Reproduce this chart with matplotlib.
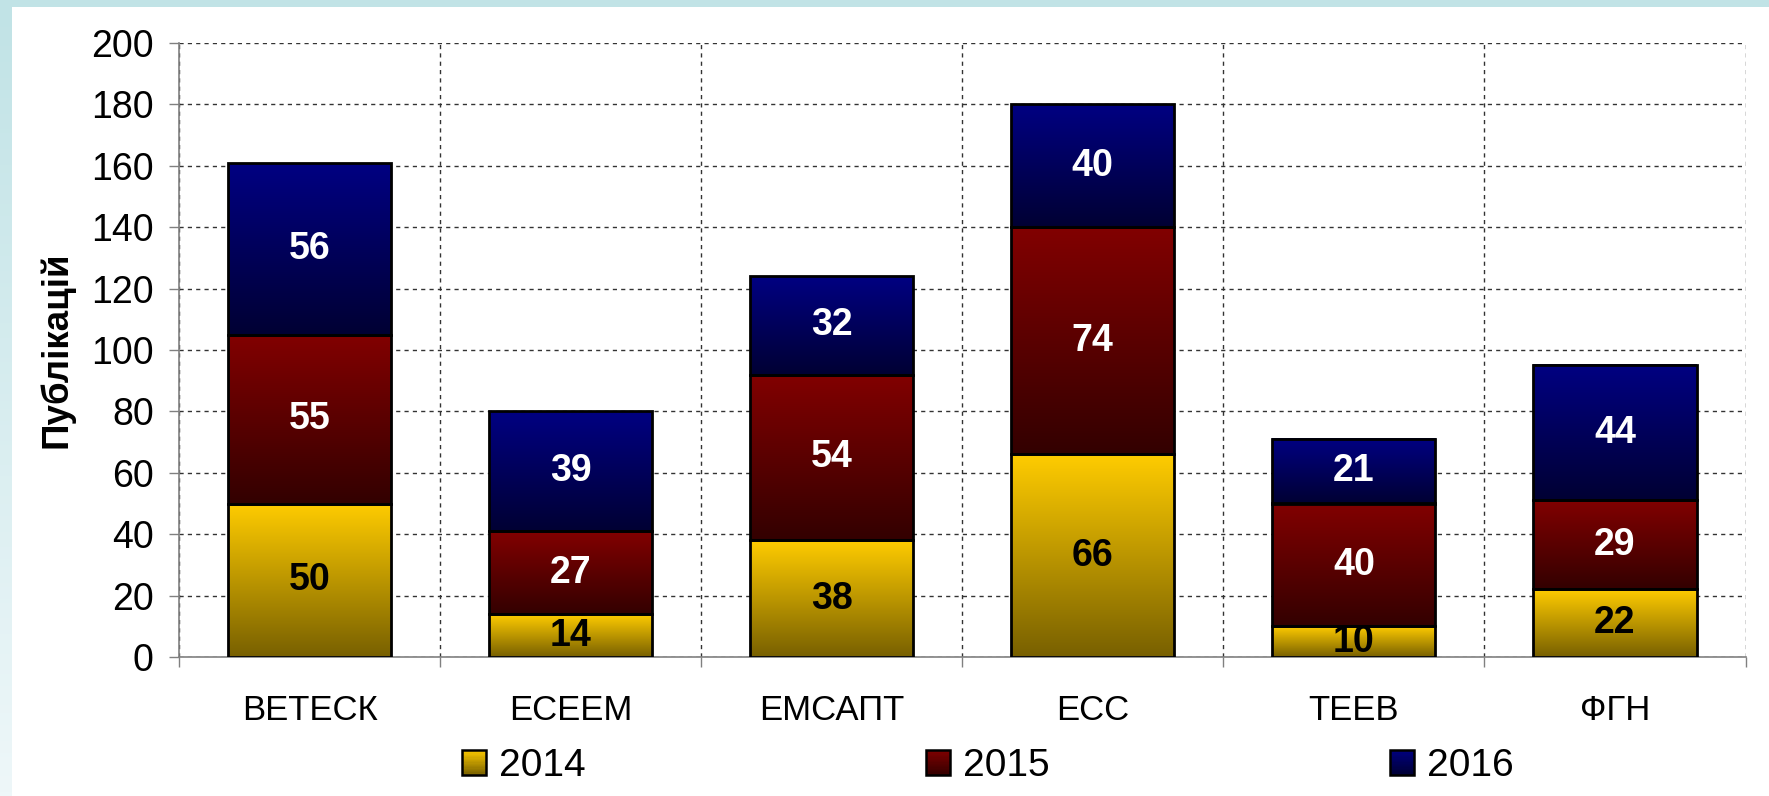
import numpy as np
import matplotlib
matplotlib.use('Agg')
import matplotlib.pyplot as plt
from matplotlib.colors import LinearSegmentedColormap
from matplotlib.patches import Rectangle, Patch
from matplotlib.legend_handler import HandlerBase

plt.rcParams['font.family'] = ['Liberation Sans', 'DejaVu Sans']

# дані
journals = ['ВЕТЕСК', 'ЕСЕЕМ', 'ЕМСАПТ', 'ЕСС', 'ТЕЕВ', 'ФГН']
years = ['2014', '2015', '2016']
pub_2014 = [50, 14, 38, 66, 10, 22]
pub_2015 = [55, 27, 54, 74, 40, 29]
pub_2016 = [56, 39, 32, 40, 21, 44]

# кольори градієнтів (верх, низ)
grad_colors = [('#FFCC00', '#786000'), ('#820000', '#330000'), ('#000082', '#000033')]
text_colors = ['black', 'white', 'white']


class GradHandler(HandlerBase):
    def __init__(self, top, bottom):
        super().__init__()
        self.cm = LinearSegmentedColormap.from_list('g', [bottom, top])

    def create_artists(self, legend, orig_handle, xdescent, ydescent,
                       width, height, fontsize, trans):
        arts = []
        n = 20
        for i in range(n):
            r = Rectangle((-xdescent, -ydescent + i * height / n), width, height / n,
                          facecolor=self.cm((i + 0.5) / n), edgecolor='none',
                          transform=trans)
            arts.append(r)
        arts.append(Rectangle((-xdescent, -ydescent), width, height, fill=False,
                              edgecolor='black', lw=1.8, transform=trans))
        return arts


fig = plt.figure(figsize=(17.69, 7.96), dpi=100)
fig.patch.set_facecolor('white')

# рамка слайда
fig.patches.append(Rectangle((0, 1 - 7 / 796), 1, 7 / 796, transform=fig.transFigure,
                             facecolor='#C1E3E6', edgecolor='none', zorder=0))
side = fig.add_axes([0, 0, 11 / 1769, 1 - 7 / 796])
side.imshow(np.linspace(0, 1, 200).reshape(-1, 1), aspect='auto', origin='upper',
            cmap=LinearSegmentedColormap.from_list('s', ['#C1E3E6', '#EEF7F9']))
side.axis('off')

ax = fig.add_axes([179 / 1769, 1 - 657 / 796, (1745.5 - 179) / 1769, (657 - 43) / 796])

x = np.arange(len(journals))
series = [pub_2014, pub_2015, pub_2016]
bottom = np.zeros(len(journals))
for k, vals in enumerate(series):
    bars = ax.bar(x, vals, bottom=bottom, width=0.625, facecolor='none',
                  edgecolor='black', linewidth=2.0, zorder=3)
    cm = LinearSegmentedColormap.from_list('c%d' % k, [grad_colors[k][1], grad_colors[k][0]])
    for p in bars.patches:
        ax.imshow(np.linspace(0, 1, 256).reshape(-1, 1), cmap=cm, aspect='auto', origin='lower',
                  extent=[p.get_x(), p.get_x() + p.get_width(), p.get_y(), p.get_y() + p.get_height()],
                  zorder=2)
    ax.bar_label(bars, label_type='center', color=text_colors[k], fontsize=27,
                 fontweight='bold', zorder=4)
    bottom += np.array(vals)

ax.set_xlim(-0.5, len(journals) - 0.5)
ax.set_ylim(0, 200)
ax.set_yticks(range(0, 201, 20))
ax.tick_params(axis='y', labelsize=27, length=7.2, width=1, color='#808080', pad=11)

ax.set_xticks(np.arange(len(journals) + 1) - 0.5)
ax.set_xticklabels([])
ax.set_xticks(x, minor=True)
ax.set_xticklabels(journals, minor=True)
ax.tick_params(axis='x', which='major', length=7.2, width=1, color='#808080')
ax.tick_params(axis='x', which='minor', length=0, labelsize=25, pad=27)

ax.grid(True, which='major', linestyle=(0, (3, 3)), color='#333333', linewidth=1.0, zorder=0)
ax.set_axisbelow(True)
for s in ['top', 'right']:
    ax.spines[s].set_visible(False)
for s in ['left', 'bottom']:
    ax.spines[s].set_color('#808080')
    ax.spines[s].set_linewidth(1.2)

ax.set_ylabel('Публікацій', fontsize=26.5, fontweight='bold', va='center')
ax.yaxis.set_label_coords((57 - 179) / 1566, 0.5)

handles = [Patch(label=y) for y in years]
hmap = {h: GradHandler(*grad_colors[i]) for i, h in enumerate(handles)}
fig.legend(handles=handles, handler_map=hmap, loc='center', ncol=3, frameon=False,
           fontsize=28, bbox_to_anchor=(988 / 1769, 1 - 766 / 796),
           handlelength=0.62, handleheight=0.62, handletextpad=0.33, columnspacing=8.75)

fig.savefig('out.png', dpi=100)
